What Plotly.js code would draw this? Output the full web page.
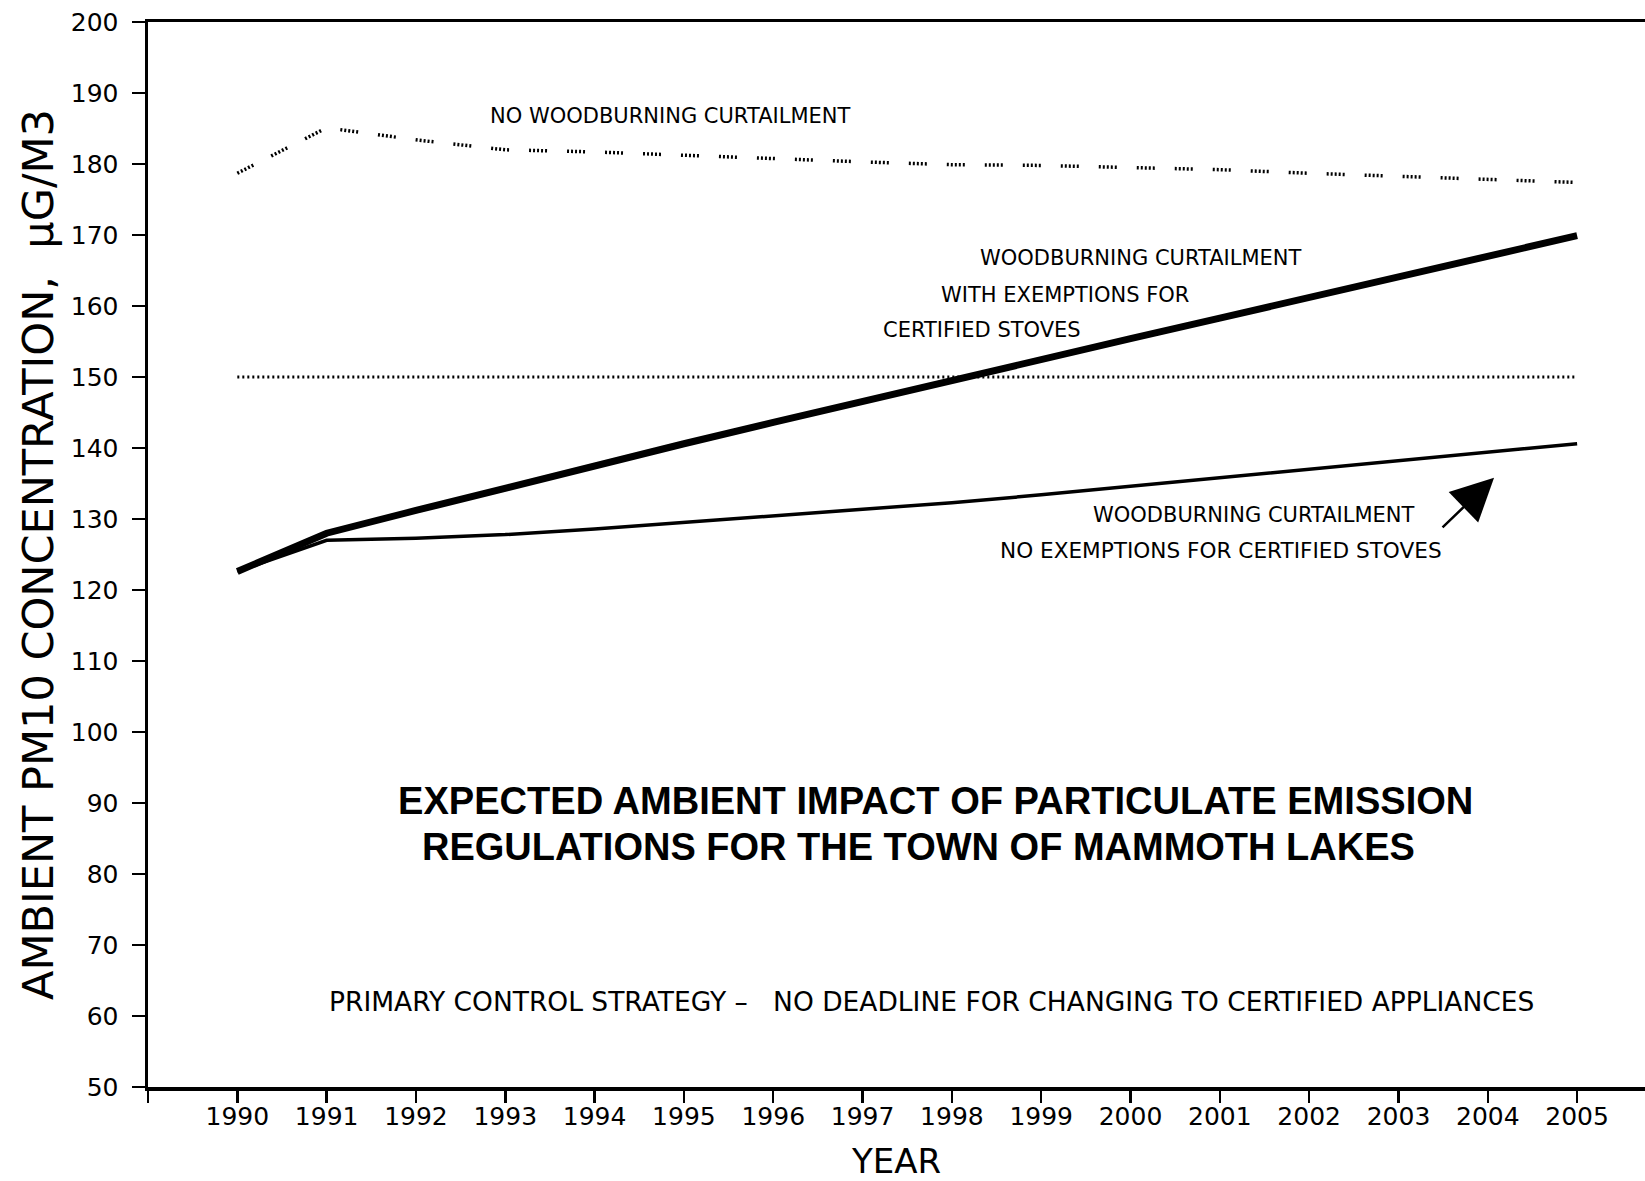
<!DOCTYPE html>
<html>
<head>
<meta charset="utf-8">
<script src="https://cdn.plot.ly/plotly-3.0.1.min.js"></script>
<style>html,body{margin:0;padding:0;background:#fff;}</style>
</head>
<body>
<div id="chart" style="width:1645px;height:1181px;"></div>
<script>
// ---- Data ----
const years = [1990, 1991, 1992, 1993, 1994, 1995, 1996, 1997, 1998, 1999, 2000, 2001, 2002, 2003, 2004, 2005];
const noCurtailment = [178.7, 185.1, 183.4, 182.0, 181.7, 181.2, 180.8, 180.3, 179.9, 179.8, 179.5, 179.2, 178.7, 178.3, 177.8, 177.4];
const curtailWithExemptions = [122.6, 128.0, 131.2, 134.4, 137.5, 140.6, 143.6, 146.6, 149.6, 152.5, 155.4, 158.3, 161.2, 164.1, 167.0, 169.9];
const curtailNoExemptions = [122.6, 127.0, 127.3, 127.8, 128.6, 129.5, 130.4, 131.3, 132.3, 133.4, 134.6, 135.8, 137.0, 138.2, 139.4, 140.6];
const standardLevel = [150, 150, 150, 150, 150, 150, 150, 150, 150, 150, 150, 150, 150, 150, 150, 150];

const xTickYears = [1989, 1990, 1991, 1992, 1993, 1994, 1995, 1996, 1997, 1998, 1999, 2000, 2001, 2002, 2003, 2004, 2005];
const xTickLabels = ['', '1990', '1991', '1992', '1993', '1994', '1995', '1996', '1997', '1998', '1999', '2000', '2001', '2002', '2003', '2004', '2005'];
const yTickValues = [50, 60, 70, 80, 90, 100, 110, 120, 130, 140, 150, 160, 170, 180, 190, 200];

const seriesNames = ['NO WOODBURNING CURTAILMENT', 'WOODBURNING CURTAILMENT WITH EXEMPTIONS FOR CERTIFIED STOVES', 'WOODBURNING CURTAILMENT NO EXEMPTIONS FOR CERTIFIED STOVES', '150 µG/M3 STANDARD'];

const FONT = 'DejaVu Sans, Liberation Sans, sans-serif';

const traces = [
  {x: years, y: noCurtailment, name: seriesNames[0], mode: 'lines',
   line: {color: '#000', width: 3.5, dash: '2px,2px,2px,2px,2px,2px,2px,2px,2px,20px'}},
  {x: years, y: curtailWithExemptions, name: seriesNames[1], mode: 'lines',
   line: {color: '#000', width: 7}},
  {x: years, y: curtailNoExemptions, name: seriesNames[2], mode: 'lines',
   line: {color: '#000', width: 3.5}},
  {x: years, y: standardLevel, name: seriesNames[3], mode: 'lines',
   line: {color: '#000', width: 3, dash: '2px,3px'}}
];

const annFont = {family: FONT, size: 21, color: '#000'};
const layout = {
  width: 1645, height: 1181,
  margin: {l: 148, r: 0, t: 22, b: 94, pad: 0},
  paper_bgcolor: '#fff', plot_bgcolor: '#fff',
  showlegend: false,
  font: {family: FONT, color: '#000'},
  xaxis: {
    range: [1989, 2005.76],
    tickmode: 'array', tickvals: xTickYears, ticktext: xTickLabels,
    ticks: 'outside', ticklen: 12, tickwidth: 2.5, tickcolor: '#000',
    showline: true, linewidth: 3.5, linecolor: '#000', mirror: true,
    showgrid: false, zeroline: false, automargin: false,
    tickfont: {family: FONT, size: 25, color: '#000'},
    ticklabelstandoff: -8,
    title: {text: 'YEAR', font: {family: FONT, size: 34, color: '#000'}, standoff: 22}
  },
  yaxis: {
    range: [50, 200],
    tickmode: 'array', tickvals: yTickValues,
    ticks: 'outside', ticklen: 13, tickwidth: 2.5, tickcolor: '#000',
    showline: true, linewidth: 3.5, linecolor: '#000', mirror: false,
    showgrid: false, zeroline: false, automargin: false,
    tickfont: {family: FONT, size: 25, color: '#000'},
    ticklabelstandoff: 8,
    title: {text: 'AMBIENT PM10 CONCENTRATION,\u00A0\u00A0µG/M3', font: {family: FONT, size: 43, color: '#000'}, standoff: 4}
  },
  annotations: [
    {x: 1992.81, y: 186.8, xanchor: 'left', yanchor: 'middle', text: 'NO WOODBURNING CURTAILMENT', showarrow: false, font: annFont},
    {x: 1998.29, y: 166.8, xanchor: 'left', yanchor: 'middle', text: 'WOODBURNING CURTAILMENT', showarrow: false, font: annFont},
    {x: 1997.86, y: 161.55, xanchor: 'left', yanchor: 'middle', text: 'WITH EXEMPTIONS FOR', showarrow: false, font: annFont},
    {x: 1997.21, y: 156.6, xanchor: 'left', yanchor: 'middle', text: 'CERTIFIED STOVES', showarrow: false, font: annFont},
    {x: 1999.56, y: 130.56, xanchor: 'left', yanchor: 'middle', text: 'WOODBURNING CURTAILMENT', showarrow: false, font: annFont},
    {x: 1998.52, y: 125.5, xanchor: 'left', yanchor: 'middle', text: 'NO EXEMPTIONS FOR CERTIFIED STOVES', showarrow: false,
     font: {family: FONT, size: 21.6, color: '#000'}},
    {x: 2004.07, y: 135.8, text: '', showarrow: true, arrowhead: 2, arrowsize: 3.4, arrowwidth: 2.5, arrowcolor: '#000', ax: -53, ay: 51},
    {x: 1997.82, y: 90.3, xanchor: 'center', yanchor: 'middle', text: '<b>EXPECTED AMBIENT IMPACT OF PARTICULATE EMISSION</b>', showarrow: false,
     font: {family: 'Liberation Sans, Arial, sans-serif', size: 38.1, color: '#000'}},
    {x: 1997.63, y: 83.8, xanchor: 'center', yanchor: 'middle', text: '<b>REGULATIONS FOR THE TOWN OF MAMMOTH LAKES</b>', showarrow: false,
     font: {family: 'Liberation Sans, Arial, sans-serif', size: 38, color: '#000'}},
    {x: 1991.0, y: 62.0, xanchor: 'left', yanchor: 'middle',
     text: 'PRIMARY CONTROL STRATEGY \u2013\u00A0\u00A0 NO DEADLINE FOR CHANGING TO CERTIFIED APPLIANCES', showarrow: false,
     font: {family: FONT, size: 26.5, color: '#000'}}
  ]
};

Plotly.newPlot('chart', traces, layout, {staticPlot: true, displayModeBar: false});
</script>
</body>
</html>
